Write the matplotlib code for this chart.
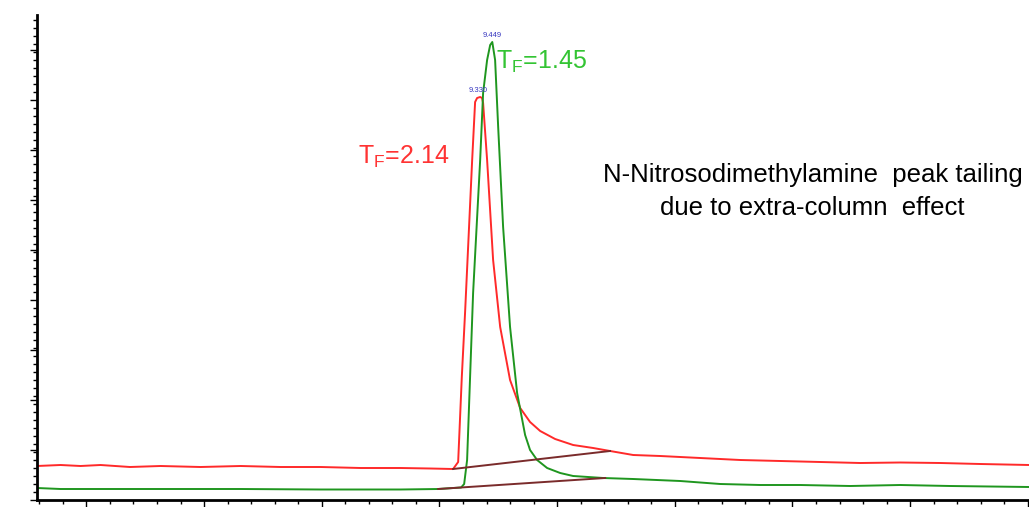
import matplotlib.pyplot as plt
from matplotlib.ticker import MultipleLocator, NullFormatter

plt.rcParams['font.family'] = ['Liberation Sans', 'DejaVu Sans']

# retention time (min) and detector signal
red_t = [5.58, 5.78, 5.95, 6.12, 6.37, 6.63, 6.97, 7.31, 7.65, 7.99, 8.33, 8.67,
         8.92, 9.116, 9.159, 9.19, 9.218, 9.278, 9.303, 9.32, 9.346, 9.362, 9.371,
         9.405, 9.456, 9.516, 9.60, 9.686, 9.77, 9.856, 9.983, 10.136, 10.306,
         10.45, 10.646, 10.876, 11.216, 11.556, 11.896, 12.236, 12.576, 12.916,
         13.256, 13.596, 14.012]
red_y = [3.4, 3.5, 3.4, 3.5, 3.3, 3.4, 3.3, 3.4, 3.3, 3.3, 3.2, 3.2,
         3.15, 3.1, 3.8, 12.3, 18.8, 34.0, 39.8, 40.2, 40.3, 40.2, 39.7,
         34.0, 24.0, 17.3, 12.0, 9.2, 7.8, 6.9, 6.1, 5.5, 5.2,
         4.9, 4.5, 4.4, 4.2, 4.0, 3.9, 3.8, 3.7, 3.75,
         3.7, 3.6, 3.5]

green_t = [5.58, 5.78, 6.12, 6.63, 7.31, 7.99, 8.67, 8.99, 9.184, 9.21, 9.235,
           9.286, 9.346, 9.371, 9.405, 9.431, 9.449, 9.473, 9.499, 9.541, 9.60,
           9.66, 9.728, 9.77, 9.83, 9.915, 10.026, 10.136, 10.391, 10.646,
           11.046, 11.386, 11.726, 12.066, 12.49, 12.916, 13.34, 14.012]
green_y = [1.2, 1.1, 1.1, 1.1, 1.1, 1.05, 1.05, 1.1, 1.25, 1.6, 4.0,
           20.7, 34.0, 40.7, 44.0, 45.5, 45.8, 44.0, 37.3, 27.3, 17.3,
           10.7, 6.5, 5.0, 4.0, 3.2, 2.7, 2.4, 2.2, 2.1,
           1.9, 1.6, 1.5, 1.5, 1.4, 1.5, 1.4, 1.3]

# integration baselines
red_base_t = [9.116, 10.45]
red_base_y = [3.1, 4.9]
green_base_t = [8.989, 10.408]
green_base_y = [1.1, 2.2]

peak_labels = ["9.330", "9.449"]
peak_t = [9.33, 9.449]
peak_y = [40.6, 46.1]

fig = plt.figure(figsize=(10.29, 5.07), dpi=100)
ax = fig.add_axes([37 / 1029, 7 / 507, 992 / 1029, 485 / 507])

ax.plot(red_t, red_y, color="#ff2a2a", lw=1.4)
ax.plot(green_t, green_y, color="#1f961f", lw=1.4)
ax.plot(red_base_t, red_base_y, color="#7a2b2b", lw=1.4)
ax.plot(green_base_t, green_base_y, color="#7a2b2b", lw=1.4)

for lab, t, y in zip(peak_labels, peak_t, peak_y):
    ax.text(t, y, lab, color="#3838c0", fontsize=5.5, ha="center", va="bottom")

ax.text(8.70, 34.3, "T$_\\mathregular{F}$=2.14", color="#ff3333", fontsize=18,
        ha="center", va="center")
ax.text(9.87, 43.8, "T$_\\mathregular{F}$=1.45", color="#33c433", fontsize=18,
        ha="center", va="center")
ax.text(12.17, 32.5, "N-Nitrosodimethylamine  peak tailing", fontsize=18.5,
        ha="center", va="center")
ax.text(12.17, 29.2, "due to extra-column  effect", fontsize=18.5,
        ha="center", va="center")

ax.set_xlim(5.58, 14.01)
ax.set_ylim(0, 48.5)
for s in ["top", "right"]:
    ax.spines[s].set_visible(False)
ax.spines["left"].set_linewidth(2)
ax.spines["bottom"].set_linewidth(2)
ax.xaxis.set_major_locator(MultipleLocator(1.0))
ax.xaxis.set_minor_locator(MultipleLocator(0.2))
ax.yaxis.set_major_locator(MultipleLocator(5))
ax.yaxis.set_minor_locator(MultipleLocator(0.8))
ax.xaxis.set_major_formatter(NullFormatter())
ax.yaxis.set_major_formatter(NullFormatter())
ax.tick_params(which="major", direction="out", length=5, width=1)
ax.tick_params(which="minor", direction="out", length=3, width=1)

fig.savefig("out.png", dpi=100)
